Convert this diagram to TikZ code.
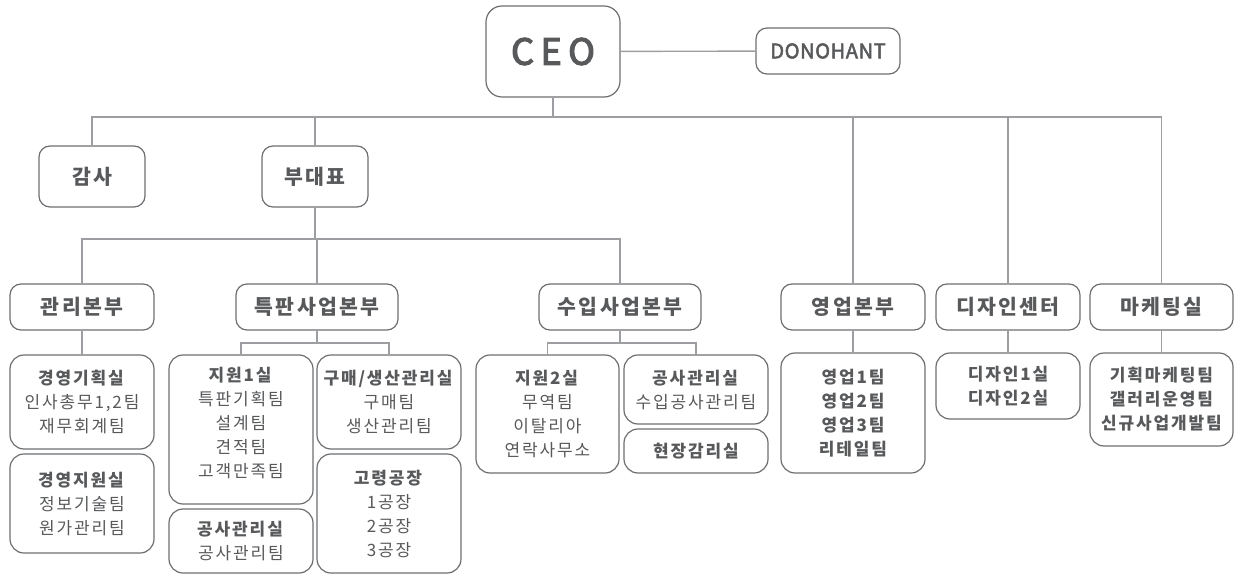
\documentclass[tikz,border=0pt]{standalone}
\usepackage{fontspec}
\setmainfont{Noto Sans CJK KR}[LetterSpace=11]
\definecolor{ink}{HTML}{58595B}
\definecolor{frame}{HTML}{6D6E71}
\definecolor{wire}{HTML}{9C9EA1}
\tikzset{every node/.style={text=ink, align=center, inner sep=0pt, font=\fontsize{17}{24}\selectfont},
  box/.style={draw=frame, line width=1.2pt, rounded corners=14pt, minimum width=144pt},
  unit/.style={box, rounded corners=11pt, minimum height=46pt, font=\fontsize{20.5}{24}\selectfont\bfseries},
  link/.style={draw=wire, line width=1.4pt}}

\begin{document}
\begin{tikzpicture}[x=1pt, y=-1pt]
  \useasboundingbox (0,0) rectangle (1234,575);
  \coordinate (topbus) at (0,117);
  \coordinate (midbus) at (0,239);
  \coordinate (lowbus) at (0,343);

  \node[box, minimum width=134pt, minimum height=91pt, rounded corners=16pt,
        font=\fontsize{36}{40}\selectfont\addfontfeature{LetterSpace=18,FakeBold=3.5}] (ceo) at (553,51.5) {CEO};
  \node[unit, font=\fontsize{20}{24}\selectfont\addfontfeature{LetterSpace=3,FakeBold=2.5}] (dono) at (828,51) {DONOHANT};
  \node[unit, minimum width=106pt, minimum height=61pt] (gamsa) at (92,176.5) {감사};
  \node[unit, minimum width=106pt, minimum height=61pt] (budae) at (315,176.5) {부대표};

  \node[unit] (gwanri) at (82,307) {관리본부};
  \node[unit, minimum width=162pt] (teukpan) at (317,307) {특판사업본부};
  \node[unit, minimum width=162pt] (suip) at (620,307) {수입사업본부};
  \node[unit] (yeongeop) at (853,307) {영업본부};
  \node[unit] (dsgncenter) at (1008,307) {디자인센터};
  \node[unit, minimum width=143pt] (mkt) at (1161.5,307) {마케팅실};

  \node[box, minimum height=94pt] (gyeong1) at (82,402) {\textbf{경영기획실}\\인사총무1,2팀\\재무회계팀};
  \node[box, minimum height=99pt] (gyeong2) at (82,503.5) {\textbf{경영지원실}\\정보기술팀\\원가관리팀};
  \node[box, minimum height=149pt] (jiwon1) at (241,429.5) {\textbf{지원1실}\\특판기획팀\\설계팀\\견적팀\\고객만족팀\rule[-14pt]{0pt}{14pt}};
  \node[box, minimum height=64pt] (gongsa1) at (241,541) {\textbf{공사관리실}\\공사관리팀};
  \node[box, minimum height=94pt] (gumae) at (389,402) {\textbf{구매/생산관리실}\\구매팀\\생산관리팀};
  \node[box, minimum height=119pt] (goryeong) at (389,513.5) {\textbf{고령공장}\\1공장\\2공장\\3공장};
  \node[box, minimum width=143pt, minimum height=118pt] (jiwon2) at (547.5,414) {\textbf{지원2실}\\무역팀\\이탈리아\\연락사무소};
  \node[box, minimum height=69pt] (gongsa2) at (696,389.5) {\textbf{공사관리실}\\수입공사관리팀};
  \node[box, minimum height=44pt, font=\fontsize{17}{24}\selectfont\bfseries] (hyeonjang) at (696,451) {현장감리실};
  \node[box, minimum height=120pt, font=\fontsize{17}{24}\selectfont\bfseries] (sales) at (853,413) {영업1팀\\영업2팀\\영업3팀\\리테일팀};
  \node[box, minimum height=66pt, font=\fontsize{17}{24}\selectfont\bfseries] (dsgn) at (1008,386) {디자인1실\\디자인2실};
  \node[box, minimum width=143pt, minimum height=93pt, font=\fontsize{17}{24}\selectfont\bfseries] (mktteam) at (1161.5,399.5) {기획마케팅팀\\갤러리운영팀\\신규사업개발팀};

  % CEO level
  \draw[link] (ceo) -- (dono);
  \draw[link] (ceo.south) -- (ceo.south |- topbus);
  \draw[link] (gamsa.north) -- (gamsa.north |- topbus) -- (mkt.north |- topbus) -- (mkt.north);
  \foreach \n in {budae,yeongeop,dsgncenter}
    \draw[link] (\n.north) -- (\n.north |- topbus);

  % vice level
  \draw[link] (budae.south) -- (budae.south |- midbus);
  \draw[link] (gwanri.north) -- (gwanri.north |- midbus) -- (suip.north |- midbus) -- (suip.north);
  \draw[link] (teukpan.north) -- (teukpan.north |- midbus);

  \draw[link] (gwanri) -- (gyeong1);
  \draw[link] (teukpan.south) -- (teukpan.south |- lowbus);
  \draw[link] (jiwon1.north) -- (jiwon1.north |- lowbus) -- (gumae.north |- lowbus) -- (gumae.north);
  \draw[link] (suip.south) -- (suip.south |- lowbus);
  \draw[link] (jiwon2.north) -- (jiwon2.north |- lowbus) -- (gongsa2.north |- lowbus) -- (gongsa2.north);
  \draw[link] (yeongeop) -- (sales);
  \draw[link] (dsgncenter) -- (dsgn);
  \draw[link] (mkt) -- (mktteam);
\end{tikzpicture}
\end{document}
